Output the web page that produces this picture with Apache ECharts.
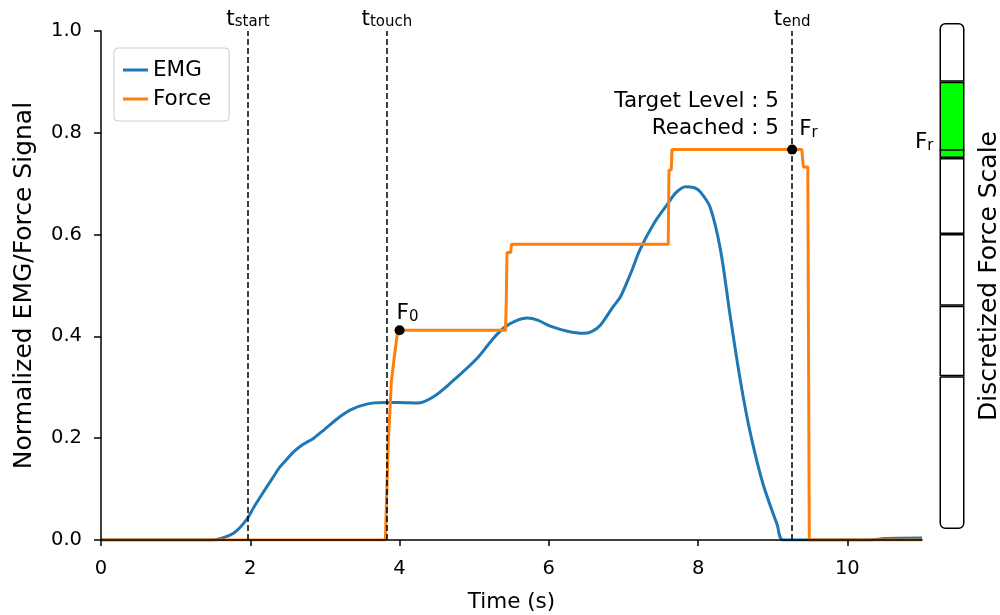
<!DOCTYPE html>
<html><head><meta charset="utf-8">
<script src="https://cdn.jsdelivr.net/npm/echarts@6/dist/echarts.min.js"></script>
<style>html,body{margin:0;padding:0;background:#fff}#c{width:1000px;height:615px}</style>
</head><body><div id="c"></div>
<script>
// ---- data ----
const emgData = [[0,0],[1.5,0],[1.65,0.005],[1.8,0.016],[1.95,0.04],[2.05,0.065],[2.18,0.095],[2.3,0.122],[2.4,0.144],[2.5,0.16],[2.58,0.173],[2.7,0.187],[2.85,0.2],[3.0,0.218],[3.2,0.242],[3.35,0.256],[3.56,0.267],[3.8,0.27],[4.0,0.27],[4.24,0.269],[4.45,0.281],[4.68,0.308],[5.04,0.357],[5.25,0.395],[5.4,0.417],[5.55,0.43],[5.71,0.436],[5.85,0.432],[6.02,0.42],[6.25,0.41],[6.46,0.406],[6.58,0.41],[6.69,0.422],[6.86,0.458],[6.96,0.478],[7.1,0.525],[7.22,0.57],[7.4,0.62],[7.59,0.66],[7.7,0.682],[7.83,0.694],[7.95,0.692],[8.03,0.684],[8.16,0.654],[8.3,0.57],[8.43,0.44],[8.57,0.31],[8.7,0.21],[8.87,0.11],[9.06,0.03],[9.14,0],[10.3,0],[10.5,0.003],[11,0.004]];
const forceData = [[0,0],[3.81,0],[3.83,0.1],[3.85,0.196],[3.87,0.25],[3.89,0.311],[3.93,0.36],[3.97,0.406],[3.99,0.412],[5.42,0.412],[5.43,0.47],[5.44,0.565],[5.49,0.565],[5.5,0.581],[7.6,0.581],[7.61,0.727],[7.64,0.727],[7.65,0.767],[9.39,0.767],[9.41,0.733],[9.47,0.733],[9.49,0],[11,0]];
const xTicks = [0, 2, 4, 6, 8, 10];
const eventSubs = ['start', 'touch', 'end'];
const eventTimes = [1.97, 3.83, 9.26];
const markerSubs = ['0', 'r'];
const markerPoints = [[4.0, 0.412], [9.26, 0.767]];
const levelBounds = [0, 0.302, 0.441, 0.583, 0.733, 0.884, 1.0];
const targetLevel = 5;
const reachedLevel = 5;
const frOnScale = 0.754;

// ---- chart ----
const FONT = 'DejaVu Sans';
const rich = {
  m: {fontSize: 21.5, fontFamily: FONT, color: '#000', lineHeight: 26, verticalAlign: 'bottom'},
  s: {fontSize: 15, fontFamily: FONT, color: '#000', lineHeight: 15, verticalAlign: 'bottom'}
};
const chart = echarts.init(document.getElementById('c'), null, {renderer: 'canvas'});

const scaleSeries = [];
for (let i = 0; i < levelBounds.length - 1; i++) {
  const s = {
    type: 'bar', xAxisIndex: 1, yAxisIndex: 1, stack: 'scale', silent: true,
    barWidth: '100%',
    data: [levelBounds[i + 1] - levelBounds[i]],
    itemStyle: {
      color: (i + 1 === reachedLevel) ? '#00ff00' : '#ffffff',
      borderColor: '#000', borderWidth: 1.5,
      borderRadius: i === levelBounds.length - 2 ? [5, 5, 0, 0] : (i === 0 ? [0, 0, 5, 5] : 0)
    }
  };
  if (i + 1 === reachedLevel) {
    s.markLine = {
      silent: true, symbol: ['none', 'none'],
      lineStyle: {color: '#000', width: 1.5, type: 'solid'},
      label: {position: 'start', distance: 6, formatter: '{m|F}{s|r}', rich: rich, padding: [0, 0, 18, 0]},
      data: [{yAxis: frOnScale}]
    };
  }
  scaleSeries.push(s);
}

const option = {
  backgroundColor: '#fff',
  animation: false,
  textStyle: {fontFamily: FONT},
  grid: [
    {left: 101, right: 78, top: 31, bottom: 75, outerBoundsMode: 'none', containLabel: false},
    {left: 939.5, width: 25, top: 23, height: 506, outerBoundsMode: 'none', containLabel: false}
  ],
  legend: {
    data: [{name: 'EMG', icon: 'rect'}, {name: 'Force', icon: 'rect'}],
    orient: 'vertical', left: 114, top: 48,
    itemWidth: 25, itemHeight: 3, itemGap: 7,
    padding: [11, 18, 11, 9],
    borderColor: '#cccccc', borderWidth: 1, borderRadius: 4, backgroundColor: '#fff',
    textStyle: {fontSize: 21.5, color: '#000', fontFamily: FONT}
  },
  xAxis: [
    {
      type: 'value', gridIndex: 0, min: 0, max: 11, interval: 2, z: 5,
      axisLine: {show: true, onZero: false, lineStyle: {color: '#000', width: 1.5}},
      axisTick: {show: true, length: 6, lineStyle: {color: '#000', width: 1.5}, customValues: xTicks},
      axisLabel: {customValues: xTicks, fontSize: 19.5, color: '#000', margin: 19, fontFamily: FONT},
      splitLine: {show: false},
      name: 'Time (s)', nameLocation: 'middle', nameGap: 51,
      nameTextStyle: {fontSize: 21.5, color: '#000', fontFamily: FONT}
    },
    {type: 'category', gridIndex: 1, data: ['scale'], show: false}
  ],
  yAxis: [
    {
      type: 'value', gridIndex: 0, min: 0, max: 1, interval: 0.2, z: 5,
      axisLine: {show: true, onZero: false, lineStyle: {color: '#000', width: 1.5}},
      axisTick: {show: true, length: 7, lineStyle: {color: '#000', width: 1.5}},
      axisLabel: {fontSize: 19.5, color: '#000', margin: 19, fontFamily: FONT, formatter: v => v.toFixed(1)},
      splitLine: {show: false},
      name: 'Normalized EMG/Force Signal', nameLocation: 'middle', nameGap: 64, nameRotate: 90,
      nameTextStyle: {fontSize: 25, color: '#000', fontFamily: FONT}
    },
    {
      type: 'value', gridIndex: 1, min: 0, max: 1, position: 'right',
      axisLine: {show: false}, axisTick: {show: false}, axisLabel: {show: false}, splitLine: {show: false},
      name: 'Discretized Force Scale', nameLocation: 'middle', nameGap: 12, nameRotate: 90,
      nameTextStyle: {fontSize: 25, color: '#000', fontFamily: FONT}
    }
  ],
  series: [
    {
      name: 'EMG', type: 'line', data: emgData, smooth: 0.3, symbol: 'none', z: 3,
      lineStyle: {color: '#1f77b4', width: 3}, itemStyle: {color: '#1f77b4'}
    },
    {
      name: 'Force', type: 'line', data: forceData, symbol: 'none', z: 4,
      lineStyle: {color: '#ff7f0e', width: 3}, itemStyle: {color: '#ff7f0e'}
    },
    {
      type: 'scatter', z: 6, symbolSize: 10, silent: true,
      itemStyle: {color: '#000', opacity: 1},
      data: markerPoints.map((p, i) => ({
        value: p,
        label: {show: true, color: '#000', opacity: 1, formatter: '{m|F}{s|' + markerSubs[i] + '}', rich: rich,
                position: i === 0 ? [2, -27] : [12, -30]}
      })),
      markLine: {
        silent: true, symbol: ['none', 'none'],
        lineStyle: {color: '#000', width: 1.5, type: [6, 3], opacity: 1},
        label: {show: true, position: 'end', distance: 1, rich: rich,
                formatter: p => '{m|t}{s|' + eventSubs[p.dataIndex] + '}'},
        data: eventTimes.map(t => ({xAxis: t}))
      }
    },
    ...scaleSeries
  ],
  graphic: [
    {
      type: 'text', right: 221, top: 88, z: 10,
      style: {
        text: 'Target Level : ' + targetLevel + '\nReached : ' + reachedLevel,
        font: '21.5px "DejaVu Sans"', textAlign: 'right', lineHeight: 27, fill: '#000'
      }
    }
  ]
};
chart.setOption(option);
</script>
</body></html>
